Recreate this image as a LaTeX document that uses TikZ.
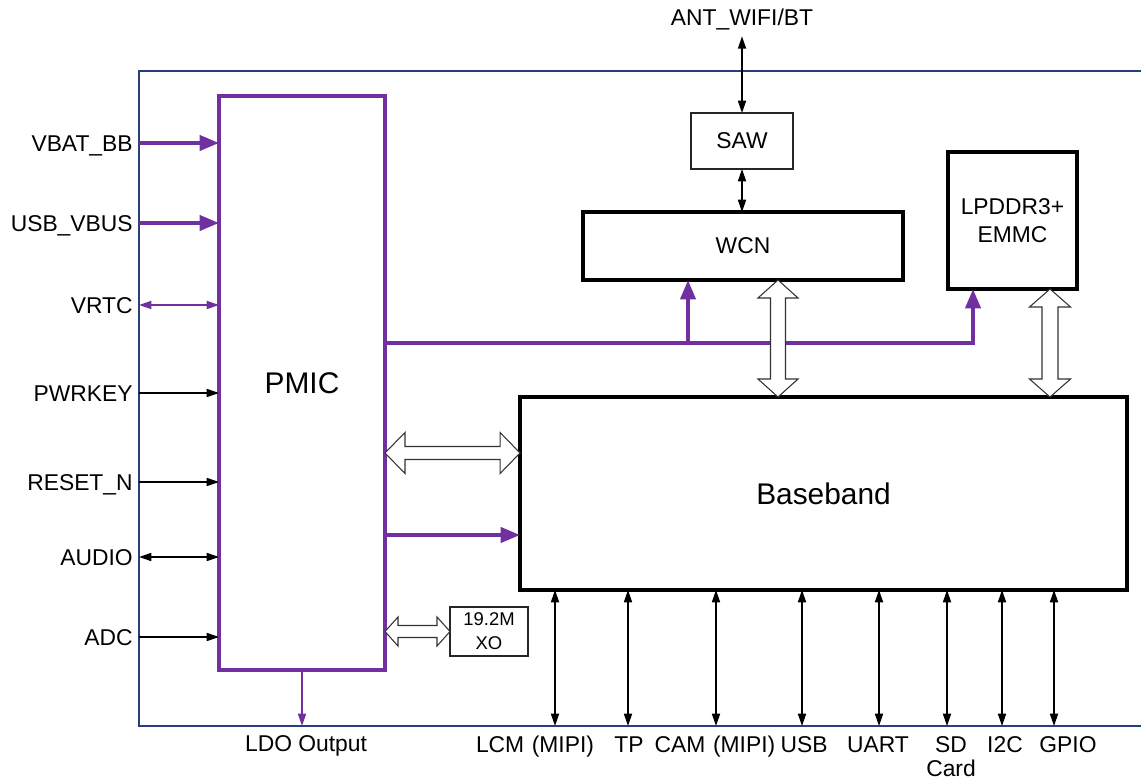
\documentclass[tikz,border=0pt]{standalone}
\usepackage{fontspec}
\setmainfont{Liberation Sans}
\usetikzlibrary{arrows.meta,calc}

\definecolor{pmicpurple}{RGB}{112,48,160}
\definecolor{framenavy}{RGB}{40,64,120}

% hollow bus arrows: tip, tip, head half width, shaft half width, head length
\newcommand{\vfat}[5]{%
  \draw[fat] (#1) -- ++(-#3,#5) -- ++({#3-#4},0) -- ($(#2)+(-#4,-#5)$) -- ++({#4-#3},0)
    -- (#2) -- ++(#3,-#5) -- ++({#4-#3},0) -- ($(#1)+(#4,#5)$) -- ++({#3-#4},0) -- cycle;}
\newcommand{\hfat}[5]{%
  \draw[fat] (#1) -- ++(#5,-#3) -- ++(0,{#3-#4}) -- ($(#2)+(-#5,-#4)$) -- ++(0,{#4-#3})
    -- (#2) -- ++(-#5,#3) -- ++(0,{#4-#3}) -- ($(#1)+(#5,#4)$) -- ++(0,{#3-#4}) -- cycle;}

\begin{document}
\begin{tikzpicture}[x=0.02cm, y=-0.02cm,
    every node/.style={font=\fontsize{13}{16}\selectfont},
    bigtext/.style={font=\fontsize{17}{20}\selectfont},
    smalltext/.style={font=\fontsize{10.5}{13.5}\selectfont},
    thickbox/.style={draw, line width=2.3pt, inner sep=0pt, outer sep=0pt, align=center},
    thinbox/.style={draw=black!85, line width=0.7pt, inner sep=0pt, outer sep=0pt, align=center},
    >={Triangle[length=7pt,width=4.6pt]},
    pwr/.style={pmicpurple, line width=2.3pt, -{Triangle[length=11pt,width=8.5pt]}},
    pwrthin/.style={pmicpurple, line width=0.8pt},
    ctl/.style={line width=0.8pt},
    fat/.style={draw=black!80, fill=white, line width=0.6pt},
    pin/.style={anchor=east, inner xsep=0.12cm, inner ysep=0pt, text height=9.3pt, text depth=0pt},
    io/.style={anchor=base, align=center, text width=3cm, inner sep=0pt},
  ]
  \useasboundingbox (0,0) rectangle (1141,783);

  % Board outline
  \draw[framenavy, line width=0.7pt] (1141,71) -- (139,71) -- (139,726) -- (1141,726);
  \coordinate (fb) at (139,726);

  % Blocks
  \node[thickbox, draw=pmicpurple, minimum width=3.32cm, minimum height=11.48cm, bigtext] (pmic) at (302,383) {PMIC};
  \node[thickbox, minimum width=6.4cm, minimum height=1.36cm] (wcn) at (743,246) {WCN};
  \node[thinbox, minimum width=2.04cm, minimum height=1.12cm] (saw) at (742,141) {SAW};
  \node[thickbox, minimum width=2.58cm, minimum height=2.74cm] (lp) at (1012.5,220.5) {LPDDR3+\\EMMC};
  \node[thickbox, minimum width=12.14cm, minimum height=3.86cm, bigtext] (bb) at (823.5,493.5) {Baseband};
  \node[thinbox, minimum width=1.56cm, minimum height=0.98cm, smalltext] (xo) at (489,631.5) {19.2M\\XO};

  % PMIC inputs
  \node[pin] (vbat) at (139,143) {VBAT\_BB};
  \node[pin] (vbus) at (139,223) {USB\_VBUS};
  \node[pin] (vrtc) at (139,305) {VRTC};
  \node[pin] (pwrkey) at (139,393) {PWRKEY};
  \node[pin] (rst) at (139,482) {RESET\_N};
  \node[pin] (audio) at (139,557) {AUDIO};
  \node[pin] (adc) at (139,637) {ADC};

  \draw[pwr] (vbat.east) -- (vbat.east -| pmic.west);
  \draw[pwr] (vbus.east) -- (vbus.east -| pmic.west);
  \draw[pwrthin, <->] (vrtc.east) -- (vrtc.east -| pmic.west);
  \draw[ctl, ->] (pwrkey.east) -- (pwrkey.east -| pmic.west);
  \draw[ctl, ->] (rst.east) -- (rst.east -| pmic.west);
  \draw[ctl, <->] (audio.east) -- (audio.east -| pmic.west);
  \draw[ctl, ->] (adc.east) -- (adc.east -| pmic.west);

  % LDO
  \node[anchor=base] (ldo) at (306,751) {LDO Output};
  \draw[pwrthin, ->] (pmic.south) -- (pmic.south |- fb);

  % Power rail
  \coordinate (tap) at (688,343);
  \coordinate (rail) at (973,343);
  \draw[pwr] (pmic.east |- rail) -- (rail) -- (rail |- lp.south);
  \draw[pwr] (tap) -- (tap |- wcn.south);
  \coordinate (pb) at (520,535);
  \draw[pwr] (pmic.east |- pb) -- (bb.west |- pb);

  % Buses
  \coordinate (pbus) at (520,453);
  \hfat{pmic.east |- pbus}{bb.west |- pbus}{20.5}{6.5}{20}
  \hfat{pmic.east |- xo.west}{xo.west}{14.5}{6}{13}
  \coordinate (wbus) at (778,397);
  \vfat{wcn.south -| wbus}{bb.north -| wbus}{20}{7.5}{18}
  \coordinate (mbus) at (1050,397);
  \vfat{lp.south -| mbus}{bb.north -| mbus}{20.5}{8}{18}

  % Antenna
  \node[anchor=base, inner sep=0pt, text depth=0pt] (ant) at (742,26) {ANT\_WIFI/BT};
  \draw[ctl, <->] ([yshift=-0.2cm]ant.south) -- (saw.north);
  \draw[ctl, <->] (saw.south) -- (saw.south |- wcn.north);

  % Baseband interfaces
  \coordinate (lcmp) at (555,726);
  \coordinate (tpp) at (628,726);
  \coordinate (camp) at (716,726);
  \coordinate (usbp) at (802,726);
  \coordinate (uartp) at (879,726);
  \coordinate (sdp) at (947,726);
  \coordinate (iicp) at (1002,726);
  \coordinate (gpiop) at (1054,726);
  \draw[ctl, <->] (bb.south -| lcmp) -- (lcmp);
  \draw[ctl, <->] (bb.south -| tpp) -- (tpp);
  \draw[ctl, <->] (bb.south -| camp) -- (camp);
  \draw[ctl, <->] (bb.south -| usbp) -- (usbp);
  \draw[ctl, <->] (bb.south -| uartp) -- (uartp);
  \draw[ctl, <->] (bb.south -| sdp) -- (sdp);
  \draw[ctl, <->] (bb.south -| iicp) -- (iicp);
  \draw[ctl, <->] (bb.south -| gpiop) -- (gpiop);

  \node[io] (lcm) at (535,752) {LCM (MIPI)};
  \node[io] (tp) at (629,752) {TP};
  \node[io] (cam) at (715,752) {CAM (MIPI)};
  \node[io] (usb) at (804,752) {USB};
  \node[io] (uart) at (878,752) {UART};
  \node[io, font=\fontsize{13}{14.2}\selectfont] (sd) at (951,752) {SD\\Card};
  \node[io] (iic) at (1005,752) {I2C};
  \node[io] (gpio) at (1068,752) {GPIO};
\end{tikzpicture}
\end{document}
